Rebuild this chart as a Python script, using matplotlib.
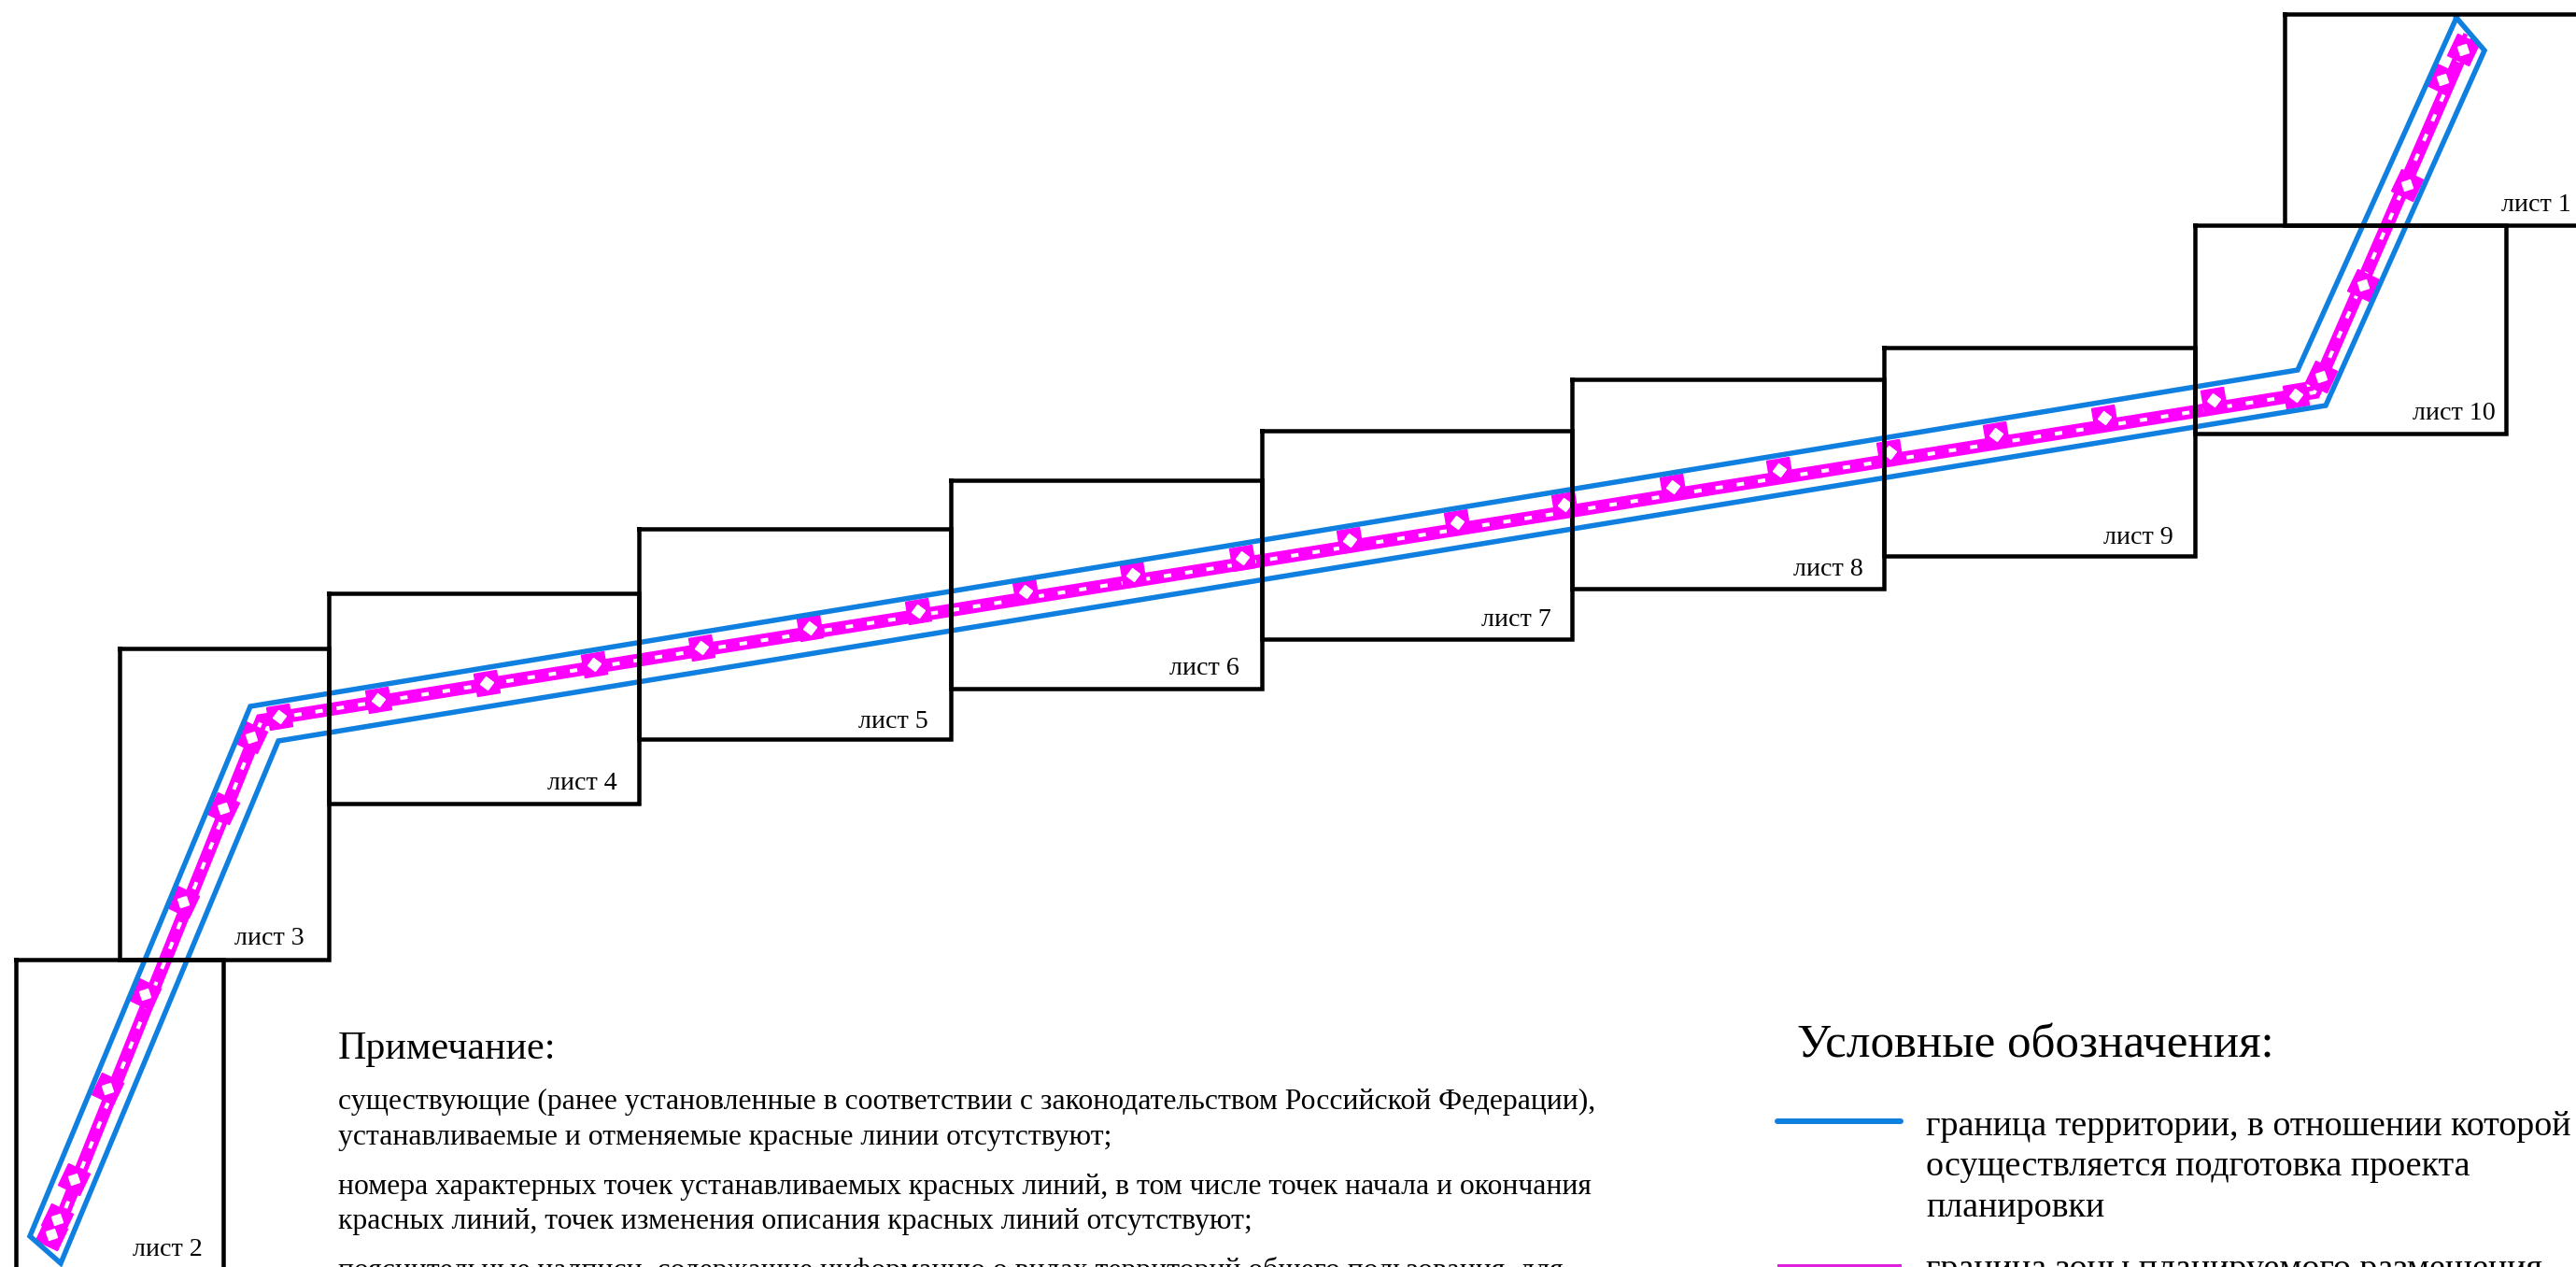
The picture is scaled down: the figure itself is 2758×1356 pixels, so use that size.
import matplotlib
matplotlib.use('Agg')
import matplotlib.pyplot as plt
from matplotlib.markers import MarkerStyle
from matplotlib.transforms import Affine2D

plt.rcParams['font.family'] = ['Liberation Serif', 'DejaVu Serif']
plt.rcParams['lines.scale_dashes'] = False

# Листы: (лево, верх, право, низ) в пикселях исходной картинки
sheet_names = ['лист 1', 'лист 2', 'лист 3', 'лист 4', 'лист 5', 'лист 6', 'лист 7', 'лист 8', 'лист 9', 'лист 10']
sheet_left = [2446, 17, 128, 352, 684, 1018, 1351, 1683, 2017, 2350]
sheet_top = [15, 1027, 694, 635, 566, 514, 461, 406, 372, 241]
sheet_right = [2790, 239, 352, 684, 1018, 1351, 1683, 2017, 2350, 2683]
sheet_bottom = [241, 1400, 1027, 860, 791, 737, 684, 630, 595, 464]
label_right = [2753, 217, 326, 661, 994, 1327, 1661, 1995, 2327, 2672]
label_base = [226, 1344, 1011, 845, 779, 722, 670, 616, 582, 449]

# Граница территории
blue_x = [2630, 2460, 268, 32, 65, 298, 2490, 2660, 2630]
blue_y = [19, 396, 756, 1323, 1352, 793, 434, 54, 19]

# Ось зоны размещения
zone_x = [2644, 2478, 280, 55]
zone_y = [38, 420, 771, 1331]

# Характерные точки на горизонтальном участке
flat_x = [299, 405, 521, 636, 751, 867, 983, 1098, 1213, 1330, 1445, 1560, 1675, 1791, 1905, 2023, 2137, 2253, 2370, 2458]
flat_y = [767, 749, 731, 711, 693, 672, 654, 633, 615, 597, 578, 559, 540, 521, 503, 484, 465, 447, 428, 423]

# Характерные точки на наклонных участках
steep_x = [269, 239, 196, 155, 115, 79, 61, 55, 2485, 2530, 2577, 2615, 2637]
steep_y = [789, 865, 965, 1064, 1165, 1262, 1305, 1321, 403, 305, 198, 85, 53]

note_title = 'Примечание:'
note_lines = [
    'существующие (ранее установленные в соответствии с законодательством Российской Федерации),',
    'устанавливаемые и отменяемые красные линии отсутствуют;',
    'номера характерных точек устанавливаемых красных линий, в том числе точек начала и окончания',
    'красных линий, точек изменения описания красных линий отсутствуют;',
    'пояснительные надписи, содержащие информацию о видах территорий общего пользования, для',
]
note_base = [1187, 1225, 1278, 1315, 1368]

legend_title = 'Условные обозначения:'
legend_lines = [
    'граница территории, в отношении которой',
    'осуществляется подготовка проекта',
    'планировки',
    'граница зоны планируемого размещения',
]
legend_base = [1215, 1258, 1302, 1368]

BLUE = '#1080E0'
MAGENTA = '#FF00FF'
PX = 72 / 100  # пиксели в пункты при dpi=100

fig = plt.figure(figsize=(27.58, 13.56), dpi=100)
ax = fig.add_axes([0, 0, 1, 1])
ax.set_xlim(0, 2758)
ax.set_ylim(1356, 0)
ax.axis('off')

# Зона с внутренними белыми просветами
ax.plot(zone_x, zone_y, color=MAGENTA, lw=14 * PX, solid_joinstyle='miter', solid_capstyle='butt', zorder=2)
ax.plot(zone_x, zone_y, color='white', lw=4 * PX, linestyle=(0, (8 * PX, 15 * PX)), zorder=3)


def draw_points(xs, ys, angle):
    square = MarkerStyle('s', transform=Affine2D().rotate_deg(angle))
    diamond = MarkerStyle('s', transform=Affine2D().rotate_deg(angle + 45))
    ax.plot(xs, ys, ls='none', marker=square, ms=25 * PX, mfc=MAGENTA, mec=MAGENTA, zorder=4)
    ax.plot(xs, ys, ls='none', marker=diamond, ms=10 * PX, mfc='white', mec='white', zorder=5)


draw_points(flat_x, flat_y, 9)
draw_points(steep_x, steep_y, 66)

ax.plot(blue_x, blue_y, color=BLUE, lw=5.5 * PX, solid_joinstyle='miter', zorder=6)

for i in range(len(sheet_names)):
    l, t, r, b = sheet_left[i], sheet_top[i], sheet_right[i], sheet_bottom[i]
    ax.plot([l, r, r, l, l], [t, t, b, b, t], color='black', lw=4.5 * PX, solid_joinstyle='miter', zorder=7)
    ax.text(label_right[i], label_base[i], sheet_names[i], ha='right', va='baseline', fontsize=28 * PX, color='black', zorder=8)

ax.text(362, 1133, note_title, fontsize=42 * PX, va='baseline')
for line, y in zip(note_lines, note_base):
    ax.text(362, y, line, fontsize=31.7 * PX, va='baseline')

ax.text(1924, 1132, legend_title, fontsize=51 * PX, va='baseline')
for line, y in zip(legend_lines, legend_base):
    ax.text(2062, y, line, fontsize=38 * PX, va='baseline')

ax.plot([1903, 2035], [1200, 1200], color=BLUE, lw=6 * PX, solid_capstyle='round')
ax.plot([1903, 2036], [1357, 1357], color='#E020E0', lw=8 * PX, solid_capstyle='butt')

fig.savefig('out.png', dpi=100, facecolor='white')
